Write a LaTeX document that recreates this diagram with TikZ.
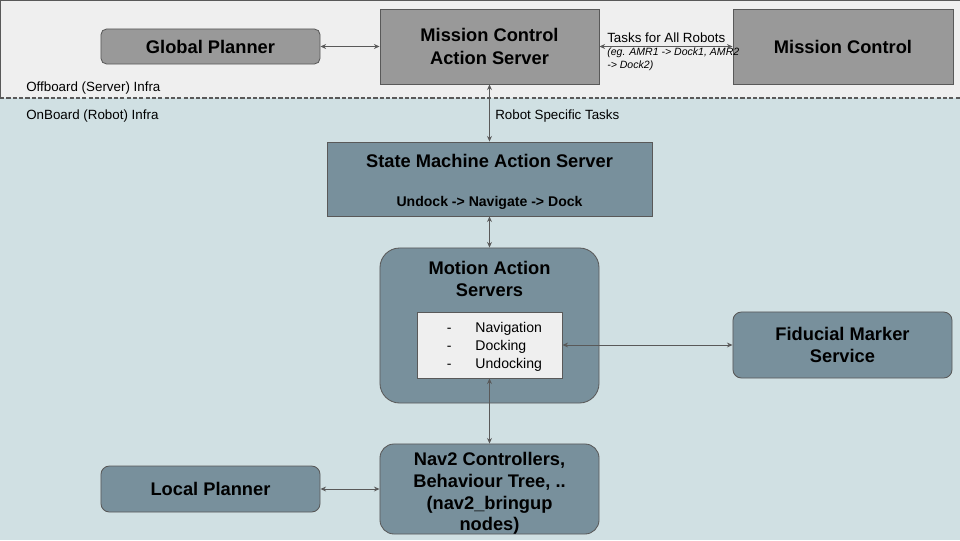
\documentclass[tikz,border=0pt]{standalone}
\usepackage{fontspec}
\setmainfont{Liberation Sans}
\usepackage{tikz}
\usetikzlibrary{arrows.meta}
\definecolor{offbg}{HTML}{EFEFEF}
\definecolor{onbg}{HTML}{D0E0E3}
\definecolor{boxgray}{HTML}{999999}
\definecolor{boxblue}{HTML}{78909C}
\definecolor{linegray}{HTML}{595959}

\begin{document}
\begin{tikzpicture}
            [x=0.025cm,y=-0.025cm,
             every node/.style={inner sep=0pt, align=center},
             title/.style={font=\bfseries\fontsize{13}{16}\selectfont},
             box/.style={title, draw=linegray, line width=0.6pt},
             graybox/.style={box, fill=boxgray},
             bluebox/.style={box, fill=boxblue},
             note/.style={anchor=west, font=\fontsize{9.5}{11}\selectfont},
             link/.style={draw=linegray, line width=0.6pt, {Stealth[length=4pt,width=3.5pt]}-{Stealth[length=4pt,width=3.5pt]}}]
            \useasboundingbox (0,0) rectangle (960,540);
            \fill[onbg] (0,98) rectangle (960,540);
            \fill[offbg] (0,0) rectangle (960,98);
            \draw[linegray, line width=0.8pt] (0,98) |- (960,0);
            \draw[linegray, line width=0.8pt, dash pattern=on 3pt off 1.5pt] (0,98) -- (960,98);

            \node[note] (offlbl) at (26,88) {Offboard (Server) Infra};
            \node[note] (onlbl) at (26,116) {OnBoard (Robot) Infra};

            \node[graybox, rounded corners=4pt, minimum width=5.475cm, minimum height=0.875cm] (gp) at (210.5,46.5) {Global Planner};
            \node[graybox, minimum width=5.475cm, minimum height=1.875cm] (mcas) at (489.5,46.5) {Mission Control\\Action Server};
            \node[graybox, minimum width=5.5cm, minimum height=1.875cm] (mc) at (843,46.5) {Mission Control};
            \node[note] (alltasks) at (607,38) {Tasks for All Robots};
            \node[anchor=north west, align=left, font=\itshape\fontsize{7.5}{9.2}\selectfont] (eg) at (607,48) {(eg. AMR1 -> Dock1, AMR2\\-> Dock2)};
            \node[note] (robottasks) at (495,116) {Robot Specific Tasks};

            \node[bluebox, minimum width=8.125cm, minimum height=1.85cm] (sm) at (489.5,179) {};
            \node[title] (smtitle) at (489.5,161) {State Machine Action Server};
            \node[font=\bfseries\fontsize{10}{12}\selectfont] (smflow) at (489.5,202.5) {Undock -> Navigate -> Dock};

            \node[bluebox, rounded corners=14pt, minimum width=5.475cm, minimum height=3.875cm] (mas) at (489.5,325.5) {};
            \node[title] (mastitle) at (489.5,279) {Motion Action\\Servers};
            \node[draw=linegray, line width=0.6pt, fill=offbg, minimum width=3.625cm, minimum height=1.65cm, align=left, font=\fontsize{10}{12.8}\selectfont] (modes) at (489.5,345) {\hspace*{7pt}-\hspace{17pt}Navigation\\\hspace*{7pt}-\hspace{17pt}Docking\\\hspace*{7pt}-\hspace{17pt}Undocking\\[-13pt]};
            \node[bluebox, rounded corners=6pt, minimum width=5.475cm, minimum height=1.65cm] (fms) at (842.5,345) {Fiducial Marker\\Service};

            \node[bluebox, rounded corners=10pt, minimum width=5.475cm, minimum height=2.25cm, font=\bfseries\fontsize{13}{15.4}\selectfont] (nav2) at (489.5,489) {Nav2 Controllers,\\Behaviour Tree, ..\\(nav2\_bringup\\nodes)\\[-19.4pt]};
            \node[bluebox, rounded corners=6pt, minimum width=5.475cm, minimum height=1.15cm] (lp) at (210.5,489) {Local Planner};

            \foreach \from/\to in {gp/mcas, mcas/mc, mcas/sm, sm/mas, modes/fms, modes/nav2, lp/nav2}
            \draw[link] (\from) -- (\to);
          \end{tikzpicture}
\end{document}
